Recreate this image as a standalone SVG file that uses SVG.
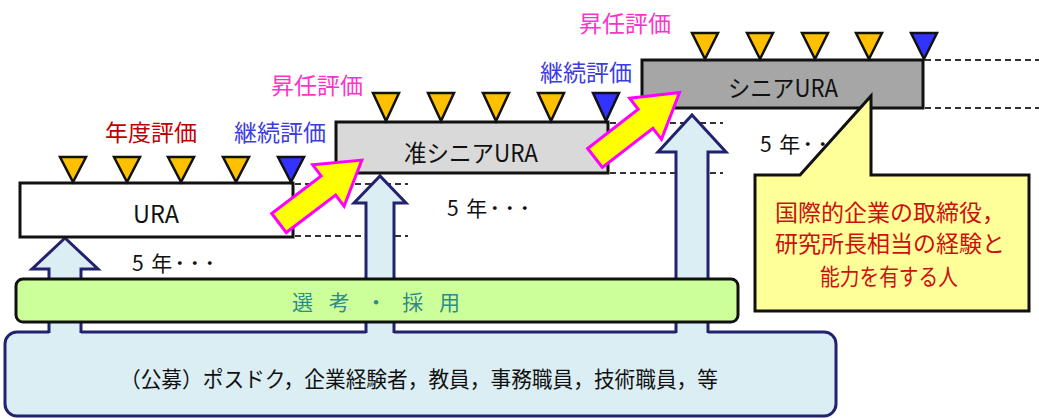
<svg xmlns="http://www.w3.org/2000/svg" width="1039" height="419" viewBox="0 0 1039 419">
<style>
text{font-family:"Noto Sans CJK JP","Noto Sans",sans-serif;dominant-baseline:central}
.box{stroke:#111;stroke-width:3}
.tri-o{fill:#ffc000;stroke:#111;stroke-width:2.5;stroke-linejoin:miter}
.tri-b{fill:#3333ff;stroke:#111;stroke-width:2.5;stroke-linejoin:miter}
.dash{stroke:#333;stroke-width:2;stroke-dasharray:6 4;fill:none}
.up-fill{fill:#dbeef3;stroke:none}
.up-line{fill:none;stroke:#22226e;stroke-width:3;stroke-linejoin:miter}
.promo{fill:#ffff00;stroke:#ff00ff;stroke-width:3;stroke-linejoin:miter}
.red{fill:#c00000;font-size:23px}
.blue{fill:#3d3ddb;font-size:23px}
.mag{fill:#ff33cc;font-size:23px}
.lbl{fill:#111;font-size:24px;text-anchor:middle}
.yr{fill:#111;font-size:21px}
.dots{font-size:15px;font-weight:bold}
.note{fill:#cc1111;font-size:23px;text-anchor:middle}
</style>
<rect width="1039" height="419" fill="#fff"/>

<g id="connectors">
  <line class="dash" x1="295" y1="184" x2="408" y2="184"/>
  <line class="dash" x1="295" y1="236" x2="408" y2="236"/>
  <line class="dash" x1="610" y1="123" x2="723" y2="123"/>
  <line class="dash" x1="610" y1="173" x2="723" y2="173"/>
  <line class="dash" x1="925" y1="60" x2="1039" y2="60"/>
  <line class="dash" x1="925" y1="108" x2="1039" y2="108"/>
</g>

<g id="pool">
  <rect x="5" y="332" width="831" height="84" rx="12" fill="#dbeef3" stroke="#22226e" stroke-width="3"/>
  <text x="120" y="377" font-size="21.5" fill="#111" textLength="598" lengthAdjust="spacingAndGlyphs">（公募）ポスドク，企業経験者，教員，事務職員，技術職員，等</text>
</g>

<g id="entry-arrows">
  <polygon class="up-fill" points="49,335 49,269 32,269 65,238 98,269 81,269 81,335"/>
  <polyline class="up-line" points="49,333 49,269 32,269 65,238 98,269 81,269 81,333"/>
  <polygon class="up-fill" points="366,335 366,203 354,203 380,176 406,203 394,203 394,335"/>
  <polyline class="up-line" points="366,333 366,203 354,203 380,176 406,203 394,203 394,333"/>
  <polygon class="up-fill" points="676,335 676,152 658,152 692,115 726,152 708,152 708,335"/>
  <polyline class="up-line" points="676,333 676,152 658,152 692,115 726,152 708,152 708,333"/>
</g>

<g id="selection">
  <rect x="16" y="279" width="722" height="43" rx="7" fill="#ccff99" stroke="#111" stroke-width="3"/>
  <text x="292" y="301" font-size="21" fill="#2e8b8b" textLength="168">選考・採用</text>
</g>

<g id="ura">
  <rect class="box" x="20" y="183" width="273" height="54" fill="#fff"/>
  <text class="lbl" x="156" y="212" textLength="46" lengthAdjust="spacingAndGlyphs">URA</text>
  <polygon class="tri-o" points="60,157 86,157 73,182"/>
  <polygon class="tri-o" points="114,157 140,157 127,182"/>
  <polygon class="tri-o" points="168,157 194,157 181,182"/>
  <polygon class="tri-o" points="223,157 249,157 236,182"/>
  <polygon class="tri-b" points="278,157 304,157 291,182"/>
  <text class="red" x="151" y="131" text-anchor="middle">年度評価</text>
  <text class="blue" x="280" y="131" text-anchor="middle">継続評価</text>
  <text class="yr" x="132" y="262">5 <tspan dx="3">年</tspan><tspan class="dots">・・・</tspan></text>
</g>

<g id="junior-senior">
  <rect class="box" x="336" y="122" width="272" height="51" fill="#d9d9d9"/>
  <text class="lbl" x="471" y="151" textLength="134" lengthAdjust="spacingAndGlyphs">准シニアURA</text>
  <polygon class="tri-o" points="373,93 399,93 386,121"/>
  <polygon class="tri-o" points="428,93 454,93 441,121"/>
  <polygon class="tri-o" points="483,93 509,93 496,121"/>
  <polygon class="tri-o" points="538,93 564,93 551,121"/>
  <polygon class="tri-b" points="593,93 619,93 606,121"/>
  <text class="mag" x="317" y="84" text-anchor="middle">昇任評価</text>
  <text class="blue" x="586" y="71" text-anchor="middle">継続評価</text>
  <text class="yr" x="447" y="207">5 <tspan dx="3">年</tspan><tspan class="dots">・・・</tspan></text>
</g>

<g id="senior">
  <rect class="box" x="642" y="60" width="281" height="48" fill="#a6a6a6"/>
  <text class="lbl" x="783" y="86" textLength="110" lengthAdjust="spacingAndGlyphs">シニアURA</text>
  <polygon class="tri-o" points="692,33 718,33 705,59"/>
  <polygon class="tri-o" points="747,33 773,33 760,59"/>
  <polygon class="tri-o" points="802,33 828,33 815,59"/>
  <polygon class="tri-o" points="856,33 882,33 869,59"/>
  <polygon class="tri-b" points="911,33 937,33 924,59"/>
  <text class="mag" x="625" y="22" text-anchor="middle">昇任評価</text>
  <text class="yr" x="760" y="143">5 <tspan dx="3">年</tspan><tspan class="dots">・・・</tspan></text>
</g>

<g id="promotions">
  <polygon class="promo" transform="translate(279,223) rotate(-37.2)" points="0,-12 62,-12 62,-26 104,0 62,26 62,12 0,12"/>
  <polygon class="promo" transform="translate(595,158) rotate(-37.8)" points="0,-12 64,-12 64,-26 107,0 64,26 64,12 0,12"/>
</g>

<g id="callout">
  <path d="M755,175 L800,175 L871,96 L871,175 L1029,175 L1029,311 L755,311 Z" fill="#ffff99" stroke="#111" stroke-width="3" stroke-linejoin="miter"/>
  <text class="note" x="890" y="211">国際的企業の取締役，</text>
  <text class="note" x="890" y="242">研究所長相当の経験と</text>
  <text class="note" x="889" y="275" textLength="138" lengthAdjust="spacingAndGlyphs">能力を有する人</text>
</g>
</svg>
